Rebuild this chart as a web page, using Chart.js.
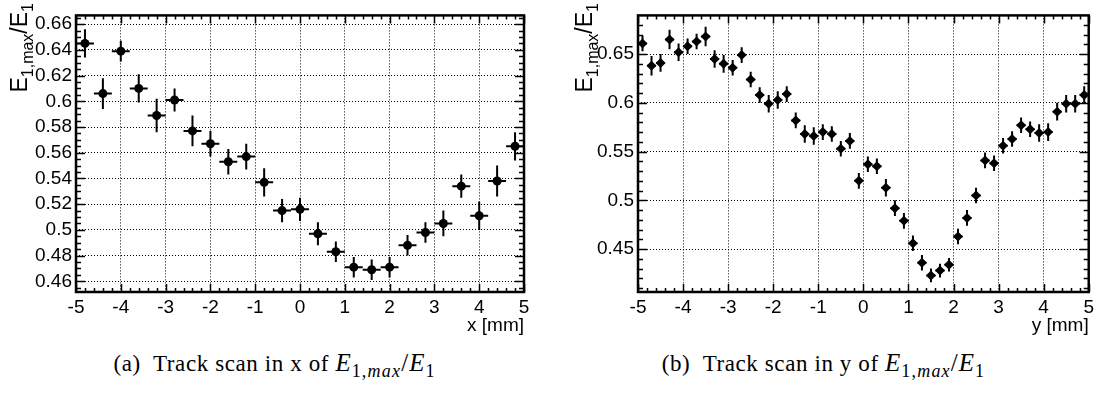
<!DOCTYPE html>
<html>
<head>
<meta charset="utf-8">
<script src="https://cdn.jsdelivr.net/npm/chart.js@4.4.1/dist/chart.umd.min.js"></script>
<style>
  body { margin: 0; background: #fff; width: 1098px; height: 393px; position: relative; overflow: hidden; }
  canvas { position: absolute; top: 0; }
  .cap { position: absolute; top: 349px; width: 549px; text-align: center; font-family: "Liberation Serif", "DejaVu Serif", serif; font-size: 23px; letter-spacing: 0.6px; color: #000; white-space: nowrap; }
  .cap .m { font-size: 25px; letter-spacing: 1px; }
  .cap sub { font-size: 18px; letter-spacing: 1.2px; }
</style>
</head>
<body>
<canvas id="chartX" width="549" height="345" style="left:0"></canvas>
<canvas id="chartY" width="549" height="345" style="left:549px"></canvas>
<div class="cap" style="left:0">(a)&nbsp; Track scan in x of <span class="m"><i>E</i><sub>1,<i>max</i></sub>/<i>E</i><sub>1</sub></span></div>
<div class="cap" style="left:549px">(b)&nbsp; Track scan in y of <span class="m"><i>E</i><sub>1,<i>max</i></sub>/<i>E</i><sub>1</sub></span></div>
<script>
// ===== DATA =====
// (a) scan in x
const xPos = [-4.8, -4.4, -4.0, -3.6, -3.2, -2.8, -2.4, -2.0, -1.6, -1.2, -0.8, -0.4, 0.0,
  0.4, 0.8, 1.2, 1.6, 2.0, 2.4, 2.8, 3.2, 3.6, 4.0, 4.4, 4.8];
const xRatio = [0.645, 0.606, 0.639, 0.610, 0.589, 0.601, 0.577, 0.567, 0.553, 0.557, 0.537, 0.515, 0.516,
  0.497, 0.483, 0.471, 0.469, 0.471, 0.488, 0.498, 0.505, 0.534, 0.511, 0.538, 0.565];
const xRatioErr = [0.011, 0.012, 0.008, 0.011, 0.013, 0.009, 0.012, 0.010, 0.010, 0.010, 0.011, 0.009, 0.009,
  0.009, 0.008, 0.008, 0.008, 0.008, 0.008, 0.008, 0.010, 0.009, 0.011, 0.012, 0.011];
const xPosErr = 0.2;

// (b) scan in y
const yPos = [-4.9, -4.7, -4.5, -4.3, -4.1, -3.9, -3.7, -3.5, -3.3, -3.1, -2.9, -2.7, -2.5, -2.3, -2.1,
  -1.9, -1.7, -1.5, -1.3, -1.1, -0.9, -0.7, -0.5, -0.3, -0.1, 0.1, 0.3, 0.5, 0.7, 0.9, 1.1, 1.3, 1.5,
  1.7, 1.9, 2.1, 2.3, 2.5, 2.7, 2.9, 3.1, 3.3, 3.5, 3.7, 3.9, 4.1, 4.3, 4.5, 4.7, 4.9];
const yRatio = [0.661, 0.638, 0.641, 0.665, 0.652, 0.658, 0.663, 0.668, 0.645, 0.640, 0.636, 0.649, 0.624, 0.608, 0.599,
  0.603, 0.609, 0.582, 0.568, 0.566, 0.570, 0.568, 0.553, 0.561, 0.520, 0.537, 0.535, 0.513, 0.492, 0.479, 0.456, 0.436, 0.423,
  0.428, 0.434, 0.463, 0.482, 0.505, 0.541, 0.538, 0.556, 0.563, 0.577, 0.573, 0.569, 0.570, 0.591, 0.599, 0.599, 0.608];
const yRatioErr = [0.008, 0.010, 0.009, 0.010, 0.009, 0.008, 0.008, 0.010, 0.009, 0.009, 0.008, 0.008, 0.008, 0.008, 0.009,
  0.009, 0.008, 0.008, 0.009, 0.009, 0.008, 0.008, 0.008, 0.008, 0.008, 0.008, 0.008, 0.009, 0.008, 0.008, 0.008, 0.008, 0.007,
  0.007, 0.007, 0.008, 0.008, 0.008, 0.008, 0.008, 0.008, 0.008, 0.008, 0.008, 0.009, 0.009, 0.009, 0.009, 0.009, 0.009];
const yPosErr = 0.1;

// ===== TICKS =====
const posTicks = [-5, -4, -3, -2, -1, 0, 1, 2, 3, 4, 5];
const xRatioTicks = [0.46, 0.48, 0.5, 0.52, 0.54, 0.56, 0.58, 0.6, 0.62, 0.64, 0.66];
const yRatioTicks = [0.45, 0.5, 0.55, 0.6, 0.65];

const SANS = '"Liberation Sans", Arial, sans-serif';

// ===== PLUGINS =====
// error bars, frame with inward ticks, axis titles
const rootStyle = {
  id: "rootStyle",
  beforeDatasetsDraw(chart, args, opts) {
    const ctx = chart.ctx;
    const xs = chart.scales.x, ys = chart.scales.y;
    ctx.save();
    ctx.strokeStyle = "#000";
    ctx.lineWidth = 2;
    chart.data.datasets[0].data.forEach((p, i) => {
      const px = xs.getPixelForValue(p.x), py = ys.getPixelForValue(p.y);
      ctx.beginPath();
      ctx.moveTo(xs.getPixelForValue(p.x - opts.xErr), py);
      ctx.lineTo(xs.getPixelForValue(p.x + opts.xErr), py);
      ctx.moveTo(px, ys.getPixelForValue(p.y - opts.yErr[i]));
      ctx.lineTo(px, ys.getPixelForValue(p.y + opts.yErr[i]));
      ctx.stroke();
    });
    ctx.restore();
  },
  afterDraw(chart, args, opts) {
    const ctx = chart.ctx;
    const a = chart.chartArea;
    const xs = chart.scales.x, ys = chart.scales.y;
    ctx.save();
    ctx.strokeStyle = "#000";
    ctx.lineWidth = 1.5;
    ctx.beginPath();
    // x ticks every 0.2
    for (let v = -5; v <= 5.001; v += 0.2) {
      const px = Math.round(xs.getPixelForValue(v)) + 0.5;
      const major = Math.abs(v - Math.round(v)) < 0.01;
      const len = major ? 8 : 4;
      ctx.moveTo(px, a.bottom); ctx.lineTo(px, a.bottom - len);
      ctx.moveTo(px, a.top); ctx.lineTo(px, a.top + len);
    }
    // y ticks
    const st = opts.yMinor;
    for (let v = Math.ceil(ys.min / st) * st; v <= ys.max; v += st) {
      const py = Math.round(ys.getPixelForValue(v)) + 0.5;
      const major = opts.yTicks.some(t => Math.abs(t - v) < st / 10);
      const len = major ? 9 : 5;
      ctx.moveTo(a.left, py); ctx.lineTo(a.left + len, py);
      ctx.moveTo(a.right, py); ctx.lineTo(a.right - len, py);
    }
    ctx.stroke();
    ctx.lineWidth = 2.5;
    ctx.strokeRect(a.left, a.top, a.right - a.left, a.bottom - a.top);

    // x title
    ctx.fillStyle = "#000";
    ctx.font = "19px " + SANS;
    ctx.textAlign = "right";
    ctx.textBaseline = "middle";
    ctx.fillText(opts.xTitle, a.right, 326);

    // y title, rotated, ending at the top
    const parts = [["E", 23, 0], ["1,max", 16, 6], ["/E", 23, 0], ["1", 16, 6]];
    ctx.textAlign = "left";
    ctx.textBaseline = "alphabetic";
    let total = 0;
    parts.forEach(p => { ctx.font = p[1] + "px " + SANS; total += ctx.measureText(p[0]).width; });
    ctx.translate(opts.titleX, opts.titleTop + total);
    ctx.rotate(-Math.PI / 2);
    let off = 0;
    parts.forEach(p => {
      ctx.font = p[1] + "px " + SANS;
      ctx.fillText(p[0], off, p[2]);
      off += ctx.measureText(p[0]).width;
    });
    ctx.restore();
  }
};

// ===== CHART =====
function makeChart(id, xs, ys, errs, opt) {
  const points = xs.map((x, i) => ({ x: x, y: ys[i] }));
  return new Chart(document.getElementById(id).getContext("2d"), {
    type: "scatter",
    data: {
      datasets: [{
        data: points,
        backgroundColor: "#000",
        borderColor: "#000",
        pointStyle: opt.pointStyle,
        pointRadius: opt.radius,
        pointBorderWidth: 0
      }]
    },
    options: {
      responsive: false,
      animation: false,
      layout: { padding: { left: 0, right: opt.padRight, top: opt.padTop, bottom: 0 } },
      plugins: {
        legend: { display: false },
        tooltip: { enabled: false },
        rootStyle: {
          xErr: opt.xErr, yErr: errs, yTicks: opt.yTicks, yMinor: opt.yMinor,
          xTitle: opt.xTitle, titleX: opt.titleX, titleTop: 3
        }
      },
      scales: {
        x: {
          type: "linear", min: -5, max: 5,
          afterBuildTicks: s => { s.ticks = posTicks.map(v => ({ value: v })); },
          afterFit: s => { s.height = 53; },
          grid: { color: "#000", lineWidth: 1, drawTicks: false },
          border: { display: false, dash: [1, 2] },
          ticks: { color: "#000", padding: 4, font: { family: SANS, size: 19 }, maxRotation: 0 }
        },
        y: {
          type: "linear", min: opt.yMin, max: opt.yMax,
          afterBuildTicks: s => { s.ticks = opt.yTicks.map(v => ({ value: v })); },
          afterFit: s => { s.width = opt.yWidth; },
          grid: { color: "#000", lineWidth: 1, drawTicks: false },
          border: { display: false, dash: [1, 2] },
          ticks: {
            color: "#000", padding: 4, font: { family: SANS, size: 19 },
            callback: v => String(+v.toFixed(2))
          }
        }
      }
    },
    plugins: [rootStyle]
  });
}

makeChart("chartX", xPos, xRatio, xRatioErr, {
  pointStyle: "circle", radius: 4.5, xErr: xPosErr,
  yMin: 0.4517, yMax: 0.6668, yTicks: xRatioTicks, yMinor: 0.005,
  yWidth: 76, padRight: 25, padTop: 7, xTitle: "x [mm]", titleX: 27
});

makeChart("chartY", yPos, yRatio, yRatioErr, {
  pointStyle: "rectRot", radius: 5, xErr: yPosErr,
  yMin: 0.406, yMax: 0.6897, yTicks: yRatioTicks, yMinor: 0.01,
  yWidth: 89, padRight: 9, padTop: 8, xTitle: "y [mm]", titleX: 43
});
</script>
</body>
</html>
